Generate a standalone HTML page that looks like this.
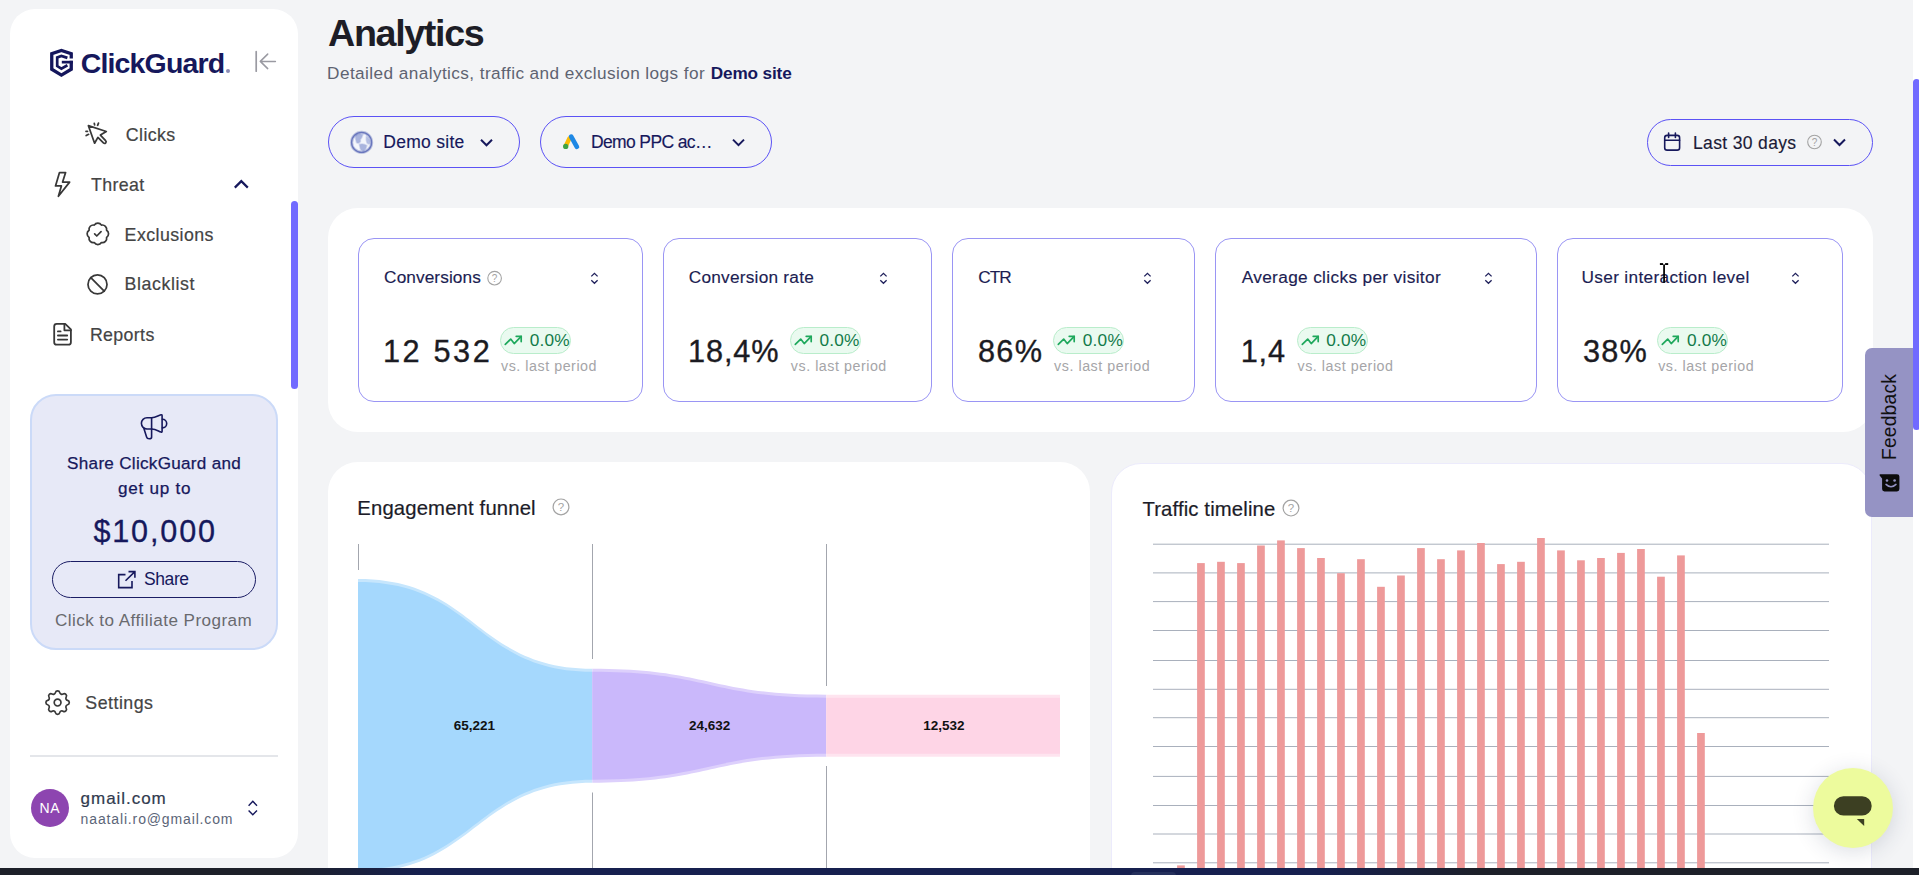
<!DOCTYPE html>
<html><head><meta charset="utf-8"><title>Analytics</title>
<style>
*{box-sizing:border-box;margin:0;padding:0}
html,body{width:1919px;height:875px;overflow:hidden;background:#f3f4f6;font-family:"Liberation Sans",Arial,sans-serif}
.a{position:absolute}
.t{position:absolute;white-space:nowrap;line-height:1}
svg.a{overflow:visible}
#sb{left:10px;top:9px;width:288px;height:849px;background:#fff;border-radius:25px}
.nav{color:#444;font-size:17.8px;-webkit-text-stroke:0.2px #444}
.navy{color:#16185c}
.panel{background:#fff;border-radius:30px}
.card{border:1px solid #9a95f4;border-radius:16px;background:#fff}
.ct{font-size:17.25px;color:#1c1d52;top:269px;-webkit-text-stroke:0.15px #1c1d52}
.big{font-size:30.7px;color:#1b1b22;top:336.6px;-webkit-text-stroke:0.35px #1b1b22}
.badge{top:327px;height:26.5px;width:71px;border-radius:14px;background:#eafaf0;border:1px solid #b9edcb}
.bt{font-size:17.25px;color:#137a4a;top:332px;letter-spacing:0.21px}
.vs{font-size:14.25px;color:#a5a5a8;top:359px;letter-spacing:0.54px}
.dd{border:1px solid #5b52f5;border-radius:26px;height:52px;top:116px}
.ico{stroke:#383838;fill:none;stroke-linecap:round;stroke-linejoin:round}
</style></head><body>
<!-- sidebar -->
<div id="sb" class="a"></div>

<!-- logo -->
<svg class="a" style="left:46px;top:45px" width="32" height="36" viewBox="0 0 32 36">
  <g fill="none" stroke="#14165c" stroke-linejoin="miter">
    <path d="M25.25,13.6 V8.8 L15.4,5.5 L5.75,8.8 V24.2 L15.4,30.1 L25.25,24.2 V15.8" stroke-width="3.3"/>
    <path d="M21.4,12.9 L15.4,10.9 L11.2,12.4 V21.1 L15.4,23.6 L21.4,20.3" stroke-width="2.7"/>
  </g>
  <rect x="15.8" y="15.8" width="11.1" height="2.7" fill="#14165c"/>
</svg>
<div class="t navy" style="left:80.7px;top:49.1px;font-size:28.5px;font-weight:bold;letter-spacing:-0.84px">ClickGuard</div>
<div class="a" style="left:226px;top:69px;width:4px;height:4px;border-radius:50%;background:#8b8cb5"></div>
<!-- collapse icon -->
<svg class="a" style="left:250px;top:46px" width="32" height="30" viewBox="0 0 32 30">
  <path d="M6.2 5.7 V25.2" stroke="#9a9aa2" stroke-width="1.7" fill="none" stroke-linecap="round"/>
  <path d="M25.4 15.4 H10.3 M17.7 8.1 L10.3 15.4 L17.7 22.6" stroke="#9a9aa2" stroke-width="1.5" fill="none" stroke-linecap="round" stroke-linejoin="round"/>
</svg>

<!-- nav icons -->
<svg class="a" style="left:80px;top:118px" width="32" height="32" viewBox="0 0 32 32">
  <g class="ico" stroke-width="1.75">
    <path d="M8.4,7.7 L14.6,25.2 L17.9,19.4 L23.4,24.9 Q24.6,26 25.7,24.9 Q26.7,23.8 25.6,22.7 L20.4,17.1 L26.3,13.5 Z"/>
    <path d="M14.3,5.3 L14.6,6.8 M17.6,7.3 L18.5,5.1 M6,13.3 L7.5,13.3 M6.2,17.6 L8.6,16.3"/>
  </g>
</svg>
<svg class="a" style="left:48px;top:168px" width="30" height="32" viewBox="0 0 30 32">
  <path class="ico" stroke-width="1.75" d="M11.5,4.6 H17.6 L14.6,14.1 H21.6 L10.4,28.2 L13.4,17.9 H7.5 Z"/>
</svg>
<svg class="a" style="left:232px;top:177px" width="18" height="14" viewBox="0 0 18 14">
  <path d="M2.8,10.6 L9.3,4.1 L15.8,10.6" stroke="#16185c" stroke-width="2.2" fill="none"/>
</svg>
<svg class="a" style="left:84.6px;top:221.3px" width="25.7" height="25.7" viewBox="0 0 24 24">
  <g class="ico" stroke-width="1.6">
    <path d="M3.85 8.62a4 4 0 0 1 4.78-4.77 4 4 0 0 1 6.74 0 4 4 0 0 1 4.78 4.78 4 4 0 0 1 0 6.74 4 4 0 0 1-4.77 4.78 4 4 0 0 1-6.75 0 4 4 0 0 1-4.78-4.77 4 4 0 0 1 0-6.76Z"/>
    <path d="m9 12 2 2 4-4"/>
  </g>
</svg>
<svg class="a" style="left:85px;top:272px" width="25" height="25" viewBox="0 0 25 25">
  <g class="ico" stroke-width="1.75">
    <circle cx="12.5" cy="12.4" r="9.5"/>
    <path d="M5.8 5.7 L19.2 19.1"/>
  </g>
</svg>
<svg class="a" style="left:48px;top:318px" width="30" height="32" viewBox="0 0 30 32">
  <g class="ico" stroke-width="1.8">
    <path d="M17.2,5.9 H8.7 Q6.2,5.9 6.2,8.4 V24.2 Q6.2,26.7 8.7,26.7 H20.4 Q22.9,26.7 22.9,24.2 V11.4 Z"/>
    <path d="M16.4,5.9 V12.3 H22.9"/>
    <path d="M9.9,13.4 H12.6 M9.9,17.5 H19.2 M9.9,21.6 H19.2"/>
  </g>
</svg>

<!-- nav text -->
<div class="t nav" style="left:125.8px;top:126.6px;letter-spacing:0.4px">Clicks</div>
<div class="t nav" style="left:91px;top:176.7px;letter-spacing:0.37px">Threat</div>
<div class="t nav" style="left:124.6px;top:226.5px;letter-spacing:0.43px">Exclusions</div>
<div class="t nav" style="left:124.6px;top:276.4px;letter-spacing:0.57px">Blacklist</div>
<div class="t nav" style="left:89.9px;top:326.5px;letter-spacing:0.36px">Reports</div>

<!-- sidebar scrollbar -->
<div class="a" style="left:291px;top:201px;width:7px;height:188px;border-radius:3.5px;background:#716aff"></div>

<!-- promo card -->
<div class="a" style="left:30px;top:394px;width:248px;height:256px;border-radius:26px;background:#e7e9f7;border:2px solid #cbdaf8"></div>
<svg class="a" style="left:136px;top:408px" width="36" height="36" viewBox="0 0 36 36">
  <g fill="none" stroke="#16185c" stroke-width="1.6" stroke-linejoin="round" stroke-linecap="round">
    <path d="M15.6,9.7 H11 A5.6,5.65 0 0 0 11,21 H15.6"/>
    <path d="M15.6,9.7 C20,9.5 22,7.5 25,6.8 Q26.1,6.6 26.1,7.8 V23.2 Q26.1,24.4 25,24.1 C22,23 20,21.2 15.6,21"/>
    <path d="M15.6,9.7 V29.2 Q15.6,30.8 13.2,30.8 Q11,30.8 10.6,29 L7.9,20.4"/>
    <path d="M26.4,11.3 A4.3,4.3 0 0 1 26.4,19.9"/>
  </g>
</svg>
<div class="t navy" style="left:67.1px;top:455.4px;font-size:17.1px;letter-spacing:0.29px;-webkit-text-stroke:0.25px #16185c">Share ClickGuard and</div>
<div class="t navy" style="left:118px;top:480.2px;font-size:17.1px;letter-spacing:0.75px;-webkit-text-stroke:0.25px #16185c">get up to</div>
<div class="t navy" style="left:93.4px;top:515.6px;font-size:30.6px;letter-spacing:1.85px;-webkit-text-stroke:0.3px #16185c">$10,000</div>
<div class="a" style="left:52px;top:561px;width:204px;height:37px;border-radius:19px;border:1px solid #1b1d64"></div>
<svg class="a" style="left:110px;top:562px" width="30" height="30" viewBox="0 0 30 30">
  <g fill="none" stroke="#16185c" stroke-width="1.6">
    <path d="M15.5,12.6 H8.7 V25.6 H22 V19"/>
    <path d="M15.5,18.8 L24.9,9.6 M18.5,9.6 H24.9 V15.7"/>
  </g>
</svg>
<div class="t navy" style="left:144px;top:571.2px;font-size:17.5px;letter-spacing:-0.42px">Share</div>
<div class="t" style="left:54.9px;top:612.3px;font-size:17.1px;letter-spacing:0.44px;color:#69696e">Click to Affiliate Program</div>

<!-- settings -->
<svg class="a" style="left:41.9px;top:686.8px" width="31.2" height="31.2" viewBox="0 0 24 24">
  <g class="ico" stroke-width="1.3">
    <path d="M10.325 4.317c.426 -1.756 2.924 -1.756 3.35 0a1.724 1.724 0 0 0 2.573 1.066c1.543 -.94 3.31 .826 2.37 2.37a1.724 1.724 0 0 0 1.065 2.572c1.756 .426 1.756 2.924 0 3.35a1.724 1.724 0 0 0 -1.066 2.573c.94 1.543 -.826 3.31 -2.37 2.37a1.724 1.724 0 0 0 -2.572 1.065c-.426 1.756 -2.924 1.756 -3.35 0a1.724 1.724 0 0 0 -2.573 -1.066c-1.543 .94 -3.31 -.826 -2.37 -2.37a1.724 1.724 0 0 0 -1.065 -2.572c-1.756 -.426 -1.756 -2.924 0 -3.35a1.724 1.724 0 0 0 1.066 -2.573c-.94 -1.543 .826 -3.31 2.37 -2.37c1 .608 2.296 .07 2.572 -1.065z"/>
    <circle cx="12" cy="12" r="2.6"/>
  </g>
</svg>
<div class="t nav" style="left:85.3px;top:695.1px;letter-spacing:0.49px">Settings</div>
<div class="a" style="left:30px;top:755px;width:248px;height:1.5px;background:#e4e6ea"></div>
<div class="a" style="left:30.6px;top:788.7px;width:38.4px;height:38.4px;border-radius:50%;background:#8d45b0"></div>
<div class="t" style="left:39.4px;top:801px;font-size:14px;letter-spacing:0.8px;color:#fff">NA</div>
<div class="t" style="left:80.6px;top:790.4px;font-size:17px;letter-spacing:0.96px;color:#303a4e;-webkit-text-stroke:0.2px #303a4e">gmail.com</div>
<div class="t" style="left:80.6px;top:812.3px;font-size:14px;letter-spacing:0.86px;color:#5b6578">naatali.ro@gmail.com</div>
<svg class="a" style="left:244px;top:797px" width="18" height="22" viewBox="0 0 18 22">
  <path d="M4.6,8.7 L8.8,4.2 L13,8.7 M4.6,13.4 L8.8,17.8 L13,13.4" stroke="#16185c" stroke-width="1.4" fill="none"/>
</svg>

<!-- header -->
<div class="t" style="left:328.1px;top:15.1px;font-size:37.7px;font-weight:bold;color:#1d1d26;letter-spacing:-1.37px">Analytics</div>
<div class="t" style="left:327.1px;top:65.2px;font-size:17.2px;color:#5e6371;letter-spacing:0.42px">Detailed analytics, traffic and exclusion logs for</div>
<div class="t" style="left:710.7px;top:65.2px;font-size:17.2px;color:#16185c;font-weight:bold;letter-spacing:-0.14px">Demo site</div>

<!-- dropdowns -->
<div class="a dd" style="left:328px;width:192px"></div>
<svg class="a" style="left:346px;top:128px" width="32" height="30" viewBox="0 0 32 30">
  <circle cx="15.6" cy="14.4" r="10" fill="#f4f6fc"/>
  <g fill="#a9b4de" stroke="#a9b4de" stroke-opacity="0.45" stroke-width="1.6" stroke-linejoin="round">
    <path d="M9.6,7.2 Q13,5.4 16.8,6.6 L15.6,9.8 Q13.6,11.2 14.4,13.6 Q12.6,16 10.6,14.6 Q9.2,11 9.6,7.2 Z"/>
    <path d="M13.4,16.4 Q17.8,15.4 20.8,17.6 Q20.2,21.4 17.8,22.8 Q15,23.2 14.4,20.8 Z"/>
    <path d="M20.4,8.4 Q23.8,10.6 24,15 Q22.4,16.8 21,14.8 Q20,12 20.4,8.4 Z" fill="#b7c0e4"/>
  </g>
  <circle cx="15.6" cy="14.4" r="10" fill="none" stroke="#5a69b6" stroke-opacity="0.35" stroke-width="3.2"/>
  <circle cx="15.6" cy="14.4" r="10" fill="none" stroke="#5a69b6" stroke-opacity="0.85" stroke-width="1.3"/>
</svg>
<div class="t navy" style="left:383.3px;top:134.1px;font-size:17.5px;letter-spacing:0.28px;-webkit-text-stroke:0.15px #16185c">Demo site</div>
<svg class="a" style="left:476px;top:134px" width="20" height="16" viewBox="0 0 20 16">
  <path d="M5,5.8 L10.5,11.3 L16,5.8" stroke="#16185c" stroke-width="2" fill="none"/>
</svg>

<div class="a dd" style="left:540px;width:232px"></div>
<svg class="a" style="left:558px;top:128px" width="28" height="28" viewBox="0 0 28 28">
  <path d="M11.3,10.6 L7.8,18" stroke="#fbbc04" stroke-width="4.4" stroke-linecap="round"/>
  <path d="M13.2,8.6 L18.9,18.8" stroke="#1e88e5" stroke-width="4.7" stroke-linecap="round"/>
  <circle cx="7.7" cy="18.4" r="2.65" fill="#3ea245"/>
</svg>
<div class="t navy" style="left:590.9px;top:134.2px;font-size:17.5px;letter-spacing:-0.62px;-webkit-text-stroke:0.15px #16185c">Demo PPC ac…</div>
<svg class="a" style="left:728px;top:134px" width="20" height="16" viewBox="0 0 20 16">
  <path d="M5,5.6 L10.5,11.1 L16,5.6" stroke="#16185c" stroke-width="2" fill="none"/>
</svg>

<div class="a dd" style="left:1647px;width:226px;top:119px;height:47px"></div>
<svg class="a" style="left:1658px;top:128px" width="30" height="28" viewBox="0 0 30 28">
  <g fill="none" stroke="#16185c" stroke-width="1.6" stroke-linecap="round">
    <rect x="6.7" y="7.4" width="14.9" height="14.7" rx="2.4"/>
    <path d="M6.7,12.3 H21.6 M10.6,5.1 V9.4 M17.4,5.1 V9.4"/>
  </g>
</svg>
<div class="t" style="left:1693px;top:135px;font-size:17.5px;letter-spacing:0.35px;color:#1a1a36;-webkit-text-stroke:0.15px #1a1a36">Last 30 days</div>
<svg class="a" style="left:1806px;top:134px" width="17" height="17" viewBox="0 0 17 17">
  <circle cx="8.5" cy="8" r="6.8" fill="none" stroke="#a3a3a3" stroke-width="1.1"/>
  <text x="8.5" y="11.6" font-size="10" text-anchor="middle" fill="#a3a3a3" font-family="Liberation Sans">?</text>
</svg>
<svg class="a" style="left:1830px;top:134px" width="20" height="16" viewBox="0 0 20 16">
  <path d="M4,5.5 L9.5,11 L15,5.5" stroke="#16185c" stroke-width="2" fill="none"/>
</svg>

<!-- stats panel -->
<div class="a panel" style="left:328px;top:208px;width:1545px;height:224px"></div>
<div class="a card" style="left:358px;top:238px;width:285px;height:164px"></div>
<div class="a card" style="left:663px;top:238px;width:269px;height:164px"></div>
<div class="a card" style="left:952px;top:238px;width:243px;height:164px"></div>
<div class="a card" style="left:1215px;top:238px;width:322px;height:164px"></div>
<div class="a card" style="left:1557px;top:238px;width:286px;height:164px"></div>

<!-- card contents -->
<div class="t ct" style="left:384.1px;letter-spacing:0.08px">Conversions</div>
<svg class="a" style="left:486px;top:269.5px" width="17" height="17" viewBox="0 0 17 17"><circle cx="8.6" cy="8.2" r="6.8" fill="none" stroke="#a3a3a3" stroke-width="1.1"/><text x="8.6" y="11.8" font-size="10" text-anchor="middle" fill="#a3a3a3" font-family="Liberation Sans">?</text></svg>
<svg class="a" style="left:584.3px;top:266px" width="20" height="24" viewBox="0 0 20 24"><path d="M7.3,10.4 L10.45,7.3 L13.6,10.4 M7.3,14.3 L10.45,17.3 L13.6,14.3" stroke="#1e1f5a" stroke-width="1.3" fill="none"/></svg>
<div class="t big" style="left:382.9px;letter-spacing:2.62px">12 532</div>
<div class="a badge" style="left:500.2px"></div>
<svg class="a" style="left:498.0px;top:325px" width="30" height="26" viewBox="0 0 30 26"><g fill="none" stroke="#1ea85c" stroke-width="1.7" stroke-linecap="round" stroke-linejoin="round"><path d="M7.3,19.4 L12.7,14.1 L16.2,18.6 L23.2,11.3"/><path d="M18.2,11.3 H23.2 V16.6"/></g></svg>
<div class="t bt" style="left:529.7px">0.0%</div>
<div class="t vs" style="left:501.0px">vs. last period</div>
<div class="t ct" style="left:688.7px;letter-spacing:0.24px">Conversion rate</div>
<svg class="a" style="left:872.7px;top:266px" width="20" height="24" viewBox="0 0 20 24"><path d="M7.3,10.4 L10.45,7.3 L13.6,10.4 M7.3,14.3 L10.45,17.3 L13.6,14.3" stroke="#1e1f5a" stroke-width="1.3" fill="none"/></svg>
<div class="t big" style="left:688.0px;letter-spacing:0.89px">18,4%</div>
<div class="a badge" style="left:790.0px"></div>
<svg class="a" style="left:787.8px;top:325px" width="30" height="26" viewBox="0 0 30 26"><g fill="none" stroke="#1ea85c" stroke-width="1.7" stroke-linecap="round" stroke-linejoin="round"><path d="M7.3,19.4 L12.7,14.1 L16.2,18.6 L23.2,11.3"/><path d="M18.2,11.3 H23.2 V16.6"/></g></svg>
<div class="t bt" style="left:819.5px">0.0%</div>
<div class="t vs" style="left:790.8px">vs. last period</div>
<div class="t ct" style="left:978.3px;letter-spacing:-1px">CTR</div>
<svg class="a" style="left:1136.7px;top:266px" width="20" height="24" viewBox="0 0 20 24"><path d="M7.3,10.4 L10.45,7.3 L13.6,10.4 M7.3,14.3 L10.45,17.3 L13.6,14.3" stroke="#1e1f5a" stroke-width="1.3" fill="none"/></svg>
<div class="t big" style="left:978.0px;letter-spacing:1.28px">86%</div>
<div class="a badge" style="left:1053.3px"></div>
<svg class="a" style="left:1051.1px;top:325px" width="30" height="26" viewBox="0 0 30 26"><g fill="none" stroke="#1ea85c" stroke-width="1.7" stroke-linecap="round" stroke-linejoin="round"><path d="M7.3,19.4 L12.7,14.1 L16.2,18.6 L23.2,11.3"/><path d="M18.2,11.3 H23.2 V16.6"/></g></svg>
<div class="t bt" style="left:1082.8px">0.0%</div>
<div class="t vs" style="left:1054.1px">vs. last period</div>
<div class="t ct" style="left:1241.7px;letter-spacing:0.34px">Average clicks per visitor</div>
<svg class="a" style="left:1477.7px;top:266px" width="20" height="24" viewBox="0 0 20 24"><path d="M7.3,10.4 L10.45,7.3 L13.6,10.4 M7.3,14.3 L10.45,17.3 L13.6,14.3" stroke="#1e1f5a" stroke-width="1.3" fill="none"/></svg>
<div class="t big" style="left:1240.7px;letter-spacing:0.85px">1,4</div>
<div class="a badge" style="left:1296.7px"></div>
<svg class="a" style="left:1294.5px;top:325px" width="30" height="26" viewBox="0 0 30 26"><g fill="none" stroke="#1ea85c" stroke-width="1.7" stroke-linecap="round" stroke-linejoin="round"><path d="M7.3,19.4 L12.7,14.1 L16.2,18.6 L23.2,11.3"/><path d="M18.2,11.3 H23.2 V16.6"/></g></svg>
<div class="t bt" style="left:1326.2px">0.0%</div>
<div class="t vs" style="left:1297.5px">vs. last period</div>
<div class="t ct" style="left:1581.5px;letter-spacing:0.32px">User interaction level</div>
<svg class="a" style="left:1784.5px;top:266px" width="20" height="24" viewBox="0 0 20 24"><path d="M7.3,10.4 L10.45,7.3 L13.6,10.4 M7.3,14.3 L10.45,17.3 L13.6,14.3" stroke="#1e1f5a" stroke-width="1.3" fill="none"/></svg>
<div class="t big" style="left:1582.9px;letter-spacing:1.18px">38%</div>
<div class="a badge" style="left:1657.4px"></div>
<svg class="a" style="left:1655.2px;top:325px" width="30" height="26" viewBox="0 0 30 26"><g fill="none" stroke="#1ea85c" stroke-width="1.7" stroke-linecap="round" stroke-linejoin="round"><path d="M7.3,19.4 L12.7,14.1 L16.2,18.6 L23.2,11.3"/><path d="M18.2,11.3 H23.2 V16.6"/></g></svg>
<div class="t bt" style="left:1686.9px">0.0%</div>
<div class="t vs" style="left:1658.2px">vs. last period</div>

<!-- bottom panels -->
<div class="a panel" style="left:328px;top:462px;width:762px;height:500px"></div>
<div class="a panel" style="left:1111px;top:463px;width:761px;height:500px;border:1px solid #ecebfc"></div>

<!-- charts -->
<div class="t" style="left:357.3px;top:497.7px;font-size:20.3px;letter-spacing:0.15px;color:#1c1c28;-webkit-text-stroke:0.2px #1c1c28">Engagement funnel</div>
<svg class="a" style="left:551px;top:497px" width="20" height="20" viewBox="0 0 20 20"><circle cx="10" cy="9.9" r="7.9" fill="none" stroke="#a3a3a3" stroke-width="1.2"/><text x="10" y="14" font-size="11.5" text-anchor="middle" fill="#a3a3a3" font-family="Liberation Sans">?</text></svg>
<div class="t" style="left:1142.4px;top:499.0px;font-size:20.3px;letter-spacing:0.14px;color:#1c1c28;-webkit-text-stroke:0.2px #1c1c28">Traffic timeline</div>
<svg class="a" style="left:1281px;top:498px" width="20" height="20" viewBox="0 0 20 20"><circle cx="10" cy="10.1" r="7.9" fill="none" stroke="#a3a3a3" stroke-width="1.2"/><text x="10" y="14.2" font-size="11.5" text-anchor="middle" fill="#a3a3a3" font-family="Liberation Sans">?</text></svg>
<svg class="a" style="left:0;top:0" width="1919" height="875" viewBox="0 0 1919 875">
<line x1="358.5" y1="544" x2="358.5" y2="570" stroke="#a3a6ae" stroke-width="1"/>
<line x1="592.5" y1="544" x2="592.5" y2="659" stroke="#a3a6ae" stroke-width="1"/>
<line x1="592.5" y1="792.5" x2="592.5" y2="868" stroke="#a3a6ae" stroke-width="1"/>
<line x1="826.5" y1="544" x2="826.5" y2="686" stroke="#a3a6ae" stroke-width="1"/>
<line x1="826.5" y1="766" x2="826.5" y2="868" stroke="#a3a6ae" stroke-width="1"/>
<path d="M358,579.0 C475.15,579.0 475.15,668.7 592.3,668.7 L592.3,782.7 C475.15,782.7 475.15,872.4 358,872.4 Z" fill="#c6e6fd"/>
<path d="M358,582.0 C475.15,582.0 475.15,671.7 592.3,671.7 L592.3,779.7 C475.15,779.7 475.15,869.4 358,869.4 Z" fill="#a5d8fd"/>
<path d="M592.3,668.7 C709.3,668.7 709.3,694.7 826.3,694.7 L826.3,756.7 C709.3,756.7 709.3,782.7 592.3,782.7 Z" fill="#ddd0fc"/>
<path d="M592.3,671.7 C709.3,671.7 709.3,697.7 826.3,697.7 L826.3,753.7 C709.3,753.7 709.3,779.7 592.3,779.7 Z" fill="#cab8fb"/>
<path d="M826.3,694.7 C943.15,694.7 943.15,694.7 1060,694.7 L1060,756.7 C943.15,756.7 943.15,756.7 826.3,756.7 Z" fill="#fee4ef"/>
<path d="M826.3,697.7 C943.15,697.7 943.15,697.7 1060,697.7 L1060,753.7 C943.15,753.7 943.15,753.7 826.3,753.7 Z" fill="#fed5e6"/>
<text x="474.4" y="729.9" font-family="Liberation Sans" font-weight="bold" font-size="13.5" text-anchor="middle" fill="#111">65,221</text>
<text x="709.6" y="729.9" font-family="Liberation Sans" font-weight="bold" font-size="13.5" text-anchor="middle" fill="#111">24,632</text>
<text x="943.9" y="729.9" font-family="Liberation Sans" font-weight="bold" font-size="13.5" text-anchor="middle" fill="#111">12,532</text>
<line x1="1153" y1="544.2" x2="1829" y2="544.2" stroke="#a9b0bc" stroke-width="1"/>
<line x1="1153" y1="572.9" x2="1829" y2="572.9" stroke="#a9b0bc" stroke-width="1"/>
<line x1="1153" y1="601.6" x2="1829" y2="601.6" stroke="#a9b0bc" stroke-width="1"/>
<line x1="1153" y1="630.5" x2="1829" y2="630.5" stroke="#a9b0bc" stroke-width="1"/>
<line x1="1153" y1="660.5" x2="1829" y2="660.5" stroke="#a9b0bc" stroke-width="1"/>
<line x1="1153" y1="689.3" x2="1829" y2="689.3" stroke="#a9b0bc" stroke-width="1"/>
<line x1="1153" y1="717.7" x2="1829" y2="717.7" stroke="#a9b0bc" stroke-width="1"/>
<line x1="1153" y1="746.5" x2="1829" y2="746.5" stroke="#a9b0bc" stroke-width="1"/>
<line x1="1153" y1="776.4" x2="1829" y2="776.4" stroke="#a9b0bc" stroke-width="1"/>
<line x1="1153" y1="805.5" x2="1829" y2="805.5" stroke="#a9b0bc" stroke-width="1"/>
<line x1="1153" y1="834.0" x2="1829" y2="834.0" stroke="#a9b0bc" stroke-width="1"/>
<line x1="1153" y1="862.8" x2="1829" y2="862.8" stroke="#a9b0bc" stroke-width="1"/>
<rect x="1177.1" y="865.4" width="7.7" height="4.6" fill="#ee9a9a"/>
<rect x="1197.1" y="563.1" width="7.7" height="306.9" fill="#ee9a9a"/>
<rect x="1217.1" y="561.8" width="7.7" height="308.2" fill="#ee9a9a"/>
<rect x="1237.1" y="563.1" width="7.7" height="306.9" fill="#ee9a9a"/>
<rect x="1257.1" y="545.5" width="7.7" height="324.5" fill="#ee9a9a"/>
<rect x="1277.1" y="540.4" width="7.7" height="329.6" fill="#ee9a9a"/>
<rect x="1297.1" y="548.1" width="7.7" height="321.9" fill="#ee9a9a"/>
<rect x="1317.1" y="558" width="7.7" height="312.0" fill="#ee9a9a"/>
<rect x="1337.1" y="573.2" width="7.7" height="296.8" fill="#ee9a9a"/>
<rect x="1357.1" y="559.2" width="7.7" height="310.8" fill="#ee9a9a"/>
<rect x="1377.1" y="586.8" width="7.7" height="283.2" fill="#ee9a9a"/>
<rect x="1397.1" y="575.5" width="7.7" height="294.5" fill="#ee9a9a"/>
<rect x="1417.1" y="548.1" width="7.7" height="321.9" fill="#ee9a9a"/>
<rect x="1437.1" y="559.2" width="7.7" height="310.8" fill="#ee9a9a"/>
<rect x="1457.1" y="550.4" width="7.7" height="319.6" fill="#ee9a9a"/>
<rect x="1477.1" y="543" width="7.7" height="327.0" fill="#ee9a9a"/>
<rect x="1497.1" y="564.1" width="7.7" height="305.9" fill="#ee9a9a"/>
<rect x="1517.1" y="561.8" width="7.7" height="308.2" fill="#ee9a9a"/>
<rect x="1537.1" y="538" width="7.7" height="332.0" fill="#ee9a9a"/>
<rect x="1557.1" y="550.4" width="7.7" height="319.6" fill="#ee9a9a"/>
<rect x="1577.1" y="560.3" width="7.7" height="309.7" fill="#ee9a9a"/>
<rect x="1597.1" y="558" width="7.7" height="312.0" fill="#ee9a9a"/>
<rect x="1617.1" y="552.9" width="7.7" height="317.1" fill="#ee9a9a"/>
<rect x="1637.1" y="549" width="7.7" height="321.0" fill="#ee9a9a"/>
<rect x="1657.1" y="576.7" width="7.7" height="293.3" fill="#ee9a9a"/>
<rect x="1677.1" y="555.4" width="7.7" height="314.6" fill="#ee9a9a"/>
<rect x="1697.1" y="733" width="7.7" height="137.0" fill="#ee9a9a"/>
</svg>

<!-- page scrollbar -->
<div class="a" style="left:1913px;top:0;width:6px;height:868px;background:#fff"></div>
<div class="a" style="left:1913px;top:79px;width:7px;height:351px;border-radius:3.5px;background:#716aff"></div>
<!-- feedback tab -->
<div class="a" style="left:1865.4px;top:348.2px;width:48px;height:168.6px;background:#9593c4;border-radius:7px 0 0 7px"></div>
<div class="t" style="left:1889.8px;top:416.6px;width:0;height:0">
  <div class="t" style="left:0;top:0;transform:translate(-50%,-50%) rotate(-90deg);font-size:19.3px;letter-spacing:0.17px;color:#111">Feedback</div>
</div>
<svg class="a" style="left:1876px;top:468px" width="28" height="28" viewBox="0 0 28 28">
  <path d="M4.2,6.2 H21 Q23.4,6.2 23.4,8.6 V21.1 Q23.4,23.5 21,23.5 H8.5 Q6.1,23.5 6.1,21.1 V10.6 L3.6,7.4 Q3.3,6.2 4.2,6.2 Z" fill="#0c0c0c"/>
  <circle cx="11" cy="12.5" r="1.3" fill="#9593c4"/>
  <circle cx="18.6" cy="12.5" r="1.3" fill="#9593c4"/>
  <path d="M10,16.4 Q15,21.2 20,16.4" stroke="#9593c4" stroke-width="1.5" fill="none" stroke-linecap="round"/>
</svg>
<!-- chat bubble -->
<div class="a" style="left:1813px;top:768px;width:80px;height:80px;border-radius:50%;background:#edfb9d;box-shadow:0 4px 22px rgba(40,50,80,0.16)"></div>
<svg class="a" style="left:1830px;top:792px" width="46" height="38" viewBox="0 0 46 38">
  <rect x="3.9" y="4.3" width="37.8" height="19.2" rx="9.6" fill="#3c3f22"/>
  <path d="M26.8,27 H34.2 V34 Z" fill="#3c3f22"/>
</svg>
<!-- text cursor -->
<svg class="a" style="left:1655px;top:258px" width="20" height="30" viewBox="0 0 20 30">
  <rect x="4.9" y="5.1" width="3.2" height="1.9" fill="#000"/>
  <rect x="10.1" y="5.1" width="3.1" height="1.9" fill="#000"/>
  <rect x="8.2" y="6.4" width="1.75" height="18.4" fill="#000"/>
</svg>
<!-- bottom bar -->
<div class="a" style="left:1131px;top:872px;width:45px;height:8px;border-radius:4px;background:#25305c;z-index:2"></div>
<div class="a" style="left:0;top:868px;width:1919px;height:7px;background:linear-gradient(90deg,#1d2029 0px,#1d2029 290px,#16204f 420px,#16204f 1320px,#1d2029 1480px,#1d2029 100%)"></div>
</body></html>
